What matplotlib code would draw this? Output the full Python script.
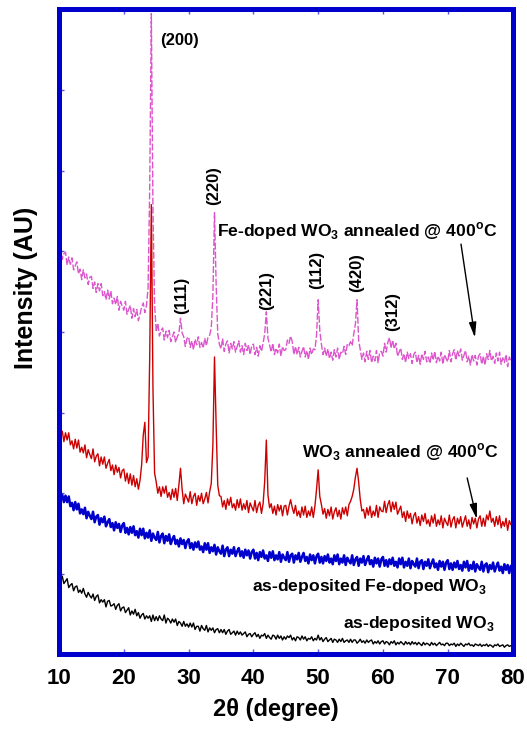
import numpy as np
import matplotlib
matplotlib.use("Agg")
import matplotlib.pyplot as plt

plt.rcParams['font.family'] = ['Liberation Sans', 'DejaVu Sans']
plt.rcParams['font.weight'] = 'bold'
plt.rcParams['mathtext.fontset'] = 'custom'
plt.rcParams['mathtext.rm'] = 'Liberation Sans'
plt.rcParams['mathtext.bf'] = 'Liberation Sans:bold'

# 2-theta sampling, 10..80 deg every 0.25 deg (281 points)
two_theta = np.linspace(10, 80, 281)

# intensities (arbitrary units, stacked)
as_dep_wo3 = [
    0.99, 0.92, 0.97, 0.88, 0.91, 0.94, 0.83, 0.86, 0.88, 0.79, 0.84, 0.85, 0.77, 0.80, 0.76, 0.82, 0.75, 0.71, 0.77, 0.73,
    0.70, 0.75, 0.67, 0.72, 0.74, 0.64, 0.68, 0.65, 0.68, 0.59, 0.66, 0.67, 0.60, 0.61, 0.63, 0.56, 0.61, 0.63, 0.54, 0.58,
    0.59, 0.52, 0.55, 0.58, 0.49, 0.54, 0.50, 0.56, 0.48, 0.52, 0.45, 0.49, 0.51, 0.44, 0.48, 0.45, 0.48, 0.41, 0.49, 0.42,
    0.47, 0.42, 0.48, 0.44, 0.42, 0.49, 0.39, 0.45, 0.43, 0.39, 0.44, 0.40, 0.44, 0.36, 0.41, 0.39, 0.35, 0.41, 0.35, 0.38,
    0.34, 0.39, 0.34, 0.39, 0.31, 0.35, 0.35, 0.29, 0.36, 0.32, 0.30, 0.36, 0.28, 0.33, 0.30, 0.33, 0.27, 0.31, 0.32, 0.27,
    0.31, 0.27, 0.31, 0.25, 0.29, 0.31, 0.25, 0.27, 0.29, 0.24, 0.29, 0.25, 0.28, 0.24, 0.26, 0.28, 0.22, 0.25, 0.26, 0.22,
    0.25, 0.27, 0.22, 0.25, 0.20, 0.24, 0.23, 0.26, 0.20, 0.24, 0.21, 0.19, 0.24, 0.23, 0.19, 0.24, 0.20, 0.23, 0.18, 0.22,
    0.19, 0.23, 0.21, 0.24, 0.18, 0.21, 0.17, 0.22, 0.21, 0.18, 0.23, 0.19, 0.22, 0.17, 0.20, 0.19, 0.22, 0.17, 0.20, 0.18,
    0.24, 0.18, 0.21, 0.16, 0.19, 0.21, 0.16, 0.18, 0.20, 0.15, 0.19, 0.18, 0.15, 0.19, 0.16, 0.20, 0.15, 0.17, 0.18, 0.15,
    0.19, 0.15, 0.18, 0.18, 0.14, 0.16, 0.19, 0.15, 0.17, 0.14, 0.18, 0.15, 0.17, 0.18, 0.13, 0.16, 0.14, 0.17, 0.13, 0.16,
    0.17, 0.13, 0.16, 0.15, 0.12, 0.16, 0.14, 0.17, 0.12, 0.15, 0.13, 0.16, 0.14, 0.12, 0.16, 0.13, 0.15, 0.12, 0.16, 0.13,
    0.15, 0.12, 0.15, 0.13, 0.11, 0.15, 0.12, 0.14, 0.13, 0.11, 0.15, 0.12, 0.14, 0.11, 0.13, 0.15, 0.12, 0.13, 0.11, 0.14,
    0.14, 0.11, 0.13, 0.12, 0.14, 0.10, 0.13, 0.11, 0.14, 0.12, 0.10, 0.13, 0.12, 0.14, 0.11, 0.12, 0.10, 0.13, 0.12, 0.11,
    0.13, 0.10, 0.12, 0.11, 0.13, 0.10, 0.12, 0.11, 0.09, 0.12, 0.11, 0.13, 0.10, 0.11, 0.12, 0.09, 0.11, 0.12, 0.10, 0.11,
    0.10,
]

as_dep_fe_wo3 = [
    2.06, 1.93, 1.98, 1.89, 1.97, 1.89, 1.96, 1.84, 1.88, 1.79, 1.89, 1.80, 1.87, 1.75, 1.80, 1.74, 1.82, 1.69, 1.77, 1.72,
    1.68, 1.77, 1.64, 1.71, 1.73, 1.61, 1.69, 1.64, 1.71, 1.59, 1.64, 1.68, 1.58, 1.63, 1.54, 1.64, 1.57, 1.62, 1.52, 1.60,
    1.63, 1.51, 1.57, 1.49, 1.58, 1.51, 1.59, 1.48, 1.53, 1.45, 1.56, 1.48, 1.56, 1.44, 1.51, 1.45, 1.54, 1.41, 1.50, 1.45,
    1.42, 1.52, 1.39, 1.47, 1.50, 1.38, 1.47, 1.41, 1.49, 1.37, 1.43, 1.47, 1.37, 1.42, 1.34, 1.44, 1.37, 1.42, 1.32, 1.40,
    1.43, 1.32, 1.38, 1.30, 1.39, 1.33, 1.40, 1.30, 1.34, 1.27, 1.38, 1.30, 1.38, 1.26, 1.33, 1.28, 1.36, 1.24, 1.33, 1.28,
    1.25, 1.35, 1.22, 1.30, 1.33, 1.22, 1.30, 1.25, 1.33, 1.22, 1.28, 1.32, 1.22, 1.28, 1.20, 1.30, 1.23, 1.29, 1.19, 1.27,
    1.30, 1.19, 1.26, 1.17, 1.27, 1.21, 1.29, 1.19, 1.23, 1.16, 1.27, 1.20, 1.28, 1.17, 1.23, 1.18, 1.27, 1.15, 1.24, 1.20,
    1.17, 1.27, 1.15, 1.23, 1.25, 1.14, 1.23, 1.18, 1.26, 1.15, 1.21, 1.26, 1.16, 1.21, 1.13, 1.24, 1.17, 1.23, 1.13, 1.22,
    1.25, 1.14, 1.21, 1.13, 1.22, 1.16, 1.24, 1.14, 1.19, 1.12, 1.23, 1.16, 1.24, 1.12, 1.19, 1.14, 1.23, 1.11, 1.20, 1.16,
    1.13, 1.23, 1.11, 1.18, 1.21, 1.10, 1.19, 1.14, 1.22, 1.11, 1.17, 1.22, 1.12, 1.17, 1.09, 1.20, 1.13, 1.19, 1.09, 1.18,
    1.21, 1.10, 1.17, 1.09, 1.18, 1.12, 1.20, 1.10, 1.15, 1.08, 1.19, 1.12, 1.20, 1.08, 1.15, 1.10, 1.19, 1.07, 1.16, 1.12,
    1.09, 1.19, 1.07, 1.15, 1.17, 1.06, 1.15, 1.10, 1.18, 1.07, 1.13, 1.18, 1.08, 1.13, 1.05, 1.16, 1.09, 1.15, 1.05, 1.14,
    1.17, 1.06, 1.13, 1.05, 1.14, 1.08, 1.16, 1.06, 1.11, 1.04, 1.15, 1.08, 1.16, 1.04, 1.11, 1.06, 1.15, 1.03, 1.12, 1.08,
    1.05, 1.15, 1.03, 1.11, 1.13, 1.02, 1.11, 1.06, 1.14, 1.03, 1.09, 1.14, 1.04, 1.09, 1.01, 1.12, 1.05, 1.11, 1.01, 1.10,
    1.06,
]

wo3_annealed = [
    2.85, 2.70, 2.77, 2.64, 2.75, 2.66, 2.75, 2.60, 2.65, 2.55, 2.67, 2.56, 2.66, 2.51, 2.57, 2.50, 2.60, 2.44, 2.54, 2.48,
    2.43, 2.55, 2.39, 2.46, 2.49, 2.34, 2.45, 2.36, 2.45, 2.31, 2.37, 2.42, 2.28, 2.35, 2.23, 2.35, 2.26, 2.32, 2.19, 2.28,
    2.30, 2.15, 2.25, 2.12, 2.24, 2.10, 2.22, 2.08, 2.18, 2.05, 2.16, 2.35, 2.72, 2.88, 2.38, 2.45, 3.70, 5.58, 3.30, 2.25,
    2.14, 2.00, 2.08, 1.96, 2.08, 2.00, 2.09, 1.95, 2.01, 1.92, 2.05, 1.95, 2.06, 1.91, 2.10, 2.31, 2.05, 1.87, 1.99, 1.94,
    1.89, 2.02, 1.87, 1.96, 2.00, 1.85, 1.97, 1.90, 2.00, 1.87, 1.93, 2.01, 1.88, 2.02, 2.12, 2.60, 3.69, 2.85, 2.10, 1.97,
    1.96, 1.83, 1.91, 1.80, 1.93, 1.85, 1.95, 1.82, 1.87, 1.79, 1.92, 1.82, 1.93, 1.79, 1.87, 1.80, 1.91, 1.76, 1.88, 1.83,
    1.78, 1.91, 1.76, 1.85, 1.89, 1.75, 1.87, 2.15, 2.66, 1.98, 1.82, 1.87, 1.75, 1.84, 1.73, 1.86, 1.78, 1.85, 1.72, 1.84,
    1.85, 1.73, 1.84, 1.92, 1.82, 1.75, 1.85, 1.72, 1.78, 1.70, 1.83, 1.73, 1.84, 1.70, 1.78, 1.72, 1.83, 1.70, 1.84, 2.05,
    2.29, 1.96, 1.86, 1.74, 1.81, 1.69, 1.80, 1.72, 1.83, 1.68, 1.77, 1.82, 1.71, 1.79, 1.68, 1.82, 1.74, 1.83, 1.72, 1.86,
    1.90, 1.96, 2.05, 2.20, 2.31, 2.14, 1.92, 1.78, 1.80, 1.69, 1.82, 1.73, 1.84, 1.70, 1.78, 1.72, 1.85, 1.70, 1.83, 1.78,
    1.77, 1.90, 1.76, 1.86, 1.91, 1.77, 1.89, 1.80, 1.89, 1.74, 1.79, 1.84, 1.70, 1.77, 1.65, 1.78, 1.69, 1.75, 1.62, 1.72,
    1.76, 1.63, 1.71, 1.60, 1.73, 1.65, 1.75, 1.62, 1.67, 1.59, 1.72, 1.63, 1.74, 1.59, 1.67, 1.61, 1.72, 1.57, 1.69, 1.64,
    1.60, 1.73, 1.58, 1.67, 1.71, 1.57, 1.69, 1.62, 1.71, 1.58, 1.65, 1.72, 1.59, 1.67, 1.56, 1.70, 1.62, 1.69, 1.57, 1.68,
    1.72, 1.59, 1.69, 1.59, 1.73, 1.67, 1.78, 1.64, 1.69, 1.59, 1.71, 1.61, 1.72, 1.57, 1.65, 1.59, 1.69, 1.54, 1.66, 1.61,
    1.63,
]

fe_wo3_annealed = [
    4.97, 5.07, 4.90, 4.97, 4.99, 4.83, 4.93, 4.84, 4.92, 4.77, 4.82, 4.87, 4.72, 4.78, 4.65, 4.77, 4.67, 4.72, 4.59, 4.68,
    4.69, 4.54, 4.62, 4.49, 4.60, 4.51, 4.60, 4.45, 4.50, 4.40, 4.52, 4.41, 4.51, 4.35, 4.42, 4.34, 4.44, 4.27, 4.38, 4.32,
    4.27, 4.38, 4.22, 4.28, 4.33, 4.17, 4.29, 4.19, 4.28, 4.14, 4.22, 4.31, 4.36, 4.24, 4.33, 4.55, 5.80, 7.95, 5.50, 4.35,
    4.00, 4.11, 3.95, 4.02, 4.05, 3.90, 4.01, 3.93, 4.02, 3.88, 3.94, 4.00, 3.87, 3.94, 3.98, 4.17, 3.99, 3.94, 3.82, 3.92,
    3.94, 3.81, 3.89, 3.78, 3.91, 3.84, 3.94, 3.81, 3.87, 3.80, 3.92, 3.83, 3.94, 3.96, 4.05, 4.45, 5.48, 4.60, 3.98, 3.85,
    3.79, 3.92, 3.76, 3.85, 3.89, 3.74, 3.86, 3.79, 3.88, 3.75, 3.82, 3.89, 3.75, 3.83, 3.72, 3.86, 3.77, 3.84, 3.72, 3.83,
    3.85, 3.72, 3.81, 3.70, 3.83, 3.76, 3.86, 3.98, 4.25, 3.92, 3.84, 3.75, 3.86, 3.72, 3.80, 3.74, 3.85, 3.70, 3.82, 3.77,
    3.78, 3.90, 3.86, 3.95, 3.88, 3.72, 3.82, 3.72, 3.81, 3.69, 3.76, 3.82, 3.69, 3.77, 3.66, 3.80, 3.72, 3.79, 3.78, 3.96,
    4.40, 4.02, 3.85, 3.72, 3.80, 3.70, 3.79, 3.67, 3.75, 3.65, 3.78, 3.69, 3.80, 3.66, 3.75, 3.73, 3.82, 3.72, 3.85, 3.83,
    3.88, 3.83, 3.98, 4.10, 4.40, 3.90, 3.78, 3.66, 3.74, 3.63, 3.76, 3.66, 3.77, 3.62, 3.70, 3.64, 3.77, 3.62, 3.75, 3.76,
    3.70, 3.86, 3.75, 3.87, 3.93, 3.80, 3.90, 3.79, 3.86, 3.70, 3.75, 3.80, 3.66, 3.73, 3.62, 3.75, 3.67, 3.73, 3.61, 3.72,
    3.75, 3.62, 3.71, 3.60, 3.73, 3.66, 3.76, 3.63, 3.69, 3.61, 3.74, 3.65, 3.76, 3.62, 3.70, 3.64, 3.75, 3.60, 3.72, 3.67,
    3.63, 3.77, 3.63, 3.73, 3.78, 3.65, 3.77, 3.70, 3.79, 3.65, 3.71, 3.77, 3.63, 3.70, 3.59, 3.72, 3.64, 3.71, 3.59, 3.70,
    3.73, 3.60, 3.70, 3.59, 3.73, 3.66, 3.77, 3.64, 3.70, 3.61, 3.74, 3.64, 3.75, 3.60, 3.68, 3.62, 3.72, 3.57, 3.69, 3.64,
    3.63,
]

# peak labels and their positions (2theta, height)
peak_labels = ["(111)", "(220)", "(221)", "(112)", "(420)", "(312)"]
peak_x = [29.0, 33.8, 42.1, 49.8, 56.0, 61.55]
peak_y = [4.46, 5.81, 4.52, 4.77, 4.74, 4.25]

frame_blue = '#0000cc'
tick_blue = '#5555ee'

fig = plt.figure(figsize=(5.27, 7.29), dpi=100)
ax = fig.add_axes([0.112, 0.1022, 0.8605, 0.8848])

ax.plot(two_theta, fe_wo3_annealed, color='#dd55cc', lw=1.0, ls=(0, (5, 1.5)))
ax.plot(two_theta, wo3_annealed, color='#cc0000', lw=1.0)
ax.plot(two_theta, as_dep_fe_wo3, color='#0000cc', lw=1.8)
ax.plot(two_theta, as_dep_wo3, color='black', lw=1.0)

ax.set_xlim(10, 80)
ax.set_ylim(0, 8)
ax.set_xticks(np.arange(10, 81, 10))
ax.set_yticks(np.arange(0, 9, 1))
ax.set_yticklabels([])
ax.tick_params(axis='x', direction='in', top=True, length=3.6, width=1.0,
               color=tick_blue, labelsize=16, pad=10)
ax.tick_params(axis='y', direction='in', left=True, right=False, length=3.6,
               width=1.0, color=tick_blue)
for lab in ax.get_xticklabels():
    lab.set_fontweight('bold')
for sp in ax.spines.values():
    sp.set_color(frame_blue)
    sp.set_linewidth(3.6)

ax.set_xlabel('2\u03b8 (degree)', fontsize=17, fontweight='bold', va='top')
ax.xaxis.set_label_coords(0.478, -0.0674)
ax.set_ylabel('Intensity (AU)', fontsize=18, fontweight='bold')
ax.yaxis.set_label_coords(-0.046, 0.569)

ax.text(25.6, 7.62, '(200)', fontsize=12, fontweight='bold', ha='left', va='center')
for lab, px, py in zip(peak_labels, peak_x, peak_y):
    ax.text(px, py, lab, fontsize=12, fontweight='bold', rotation=90,
            ha='center', va='center')

ax.text(34.4, 5.19, r'Fe-doped WO$_\mathbf{3}$ annealed @ 400$^\mathbf{o}$C',
        fontsize=12.6, fontweight='bold', ha='left', va='baseline')
ax.text(47.5, 2.44, r'WO$_\mathbf{3}$ annealed @ 400$^\mathbf{o}$C',
        fontsize=12.6, fontweight='bold', ha='left', va='baseline')
ax.text(39.8, 0.79, r'as-deposited Fe-doped WO$_\mathbf{3}$',
        fontsize=12.6, fontweight='bold', ha='left', va='baseline')
ax.text(53.8, 0.33, r'as-deposited WO$_\mathbf{3}$',
        fontsize=12.6, fontweight='bold', ha='left', va='baseline')

arrow = dict(arrowstyle='-|>,head_width=0.22,head_length=0.9', color='black',
             lw=1.0, shrinkA=0, shrinkB=0)
ax.annotate('', xy=(74.2, 3.93), xytext=(72.05, 5.09), arrowprops=arrow)
ax.annotate('', xy=(74.5, 1.68), xytext=(73.0, 2.19), arrowprops=arrow)

fig.savefig('out.png', dpi=100)
